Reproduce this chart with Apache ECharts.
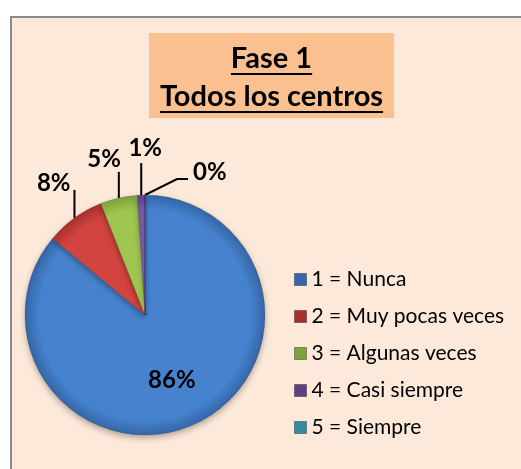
<!DOCTYPE html>
<html>
<head>
<meta charset="utf-8">
<script src="https://cdn.jsdelivr.net/npm/echarts@6/dist/echarts.min.js"></script>
<style>
  html, body { margin: 0; padding: 0; background: #ffffff; }
  #frame {
    position: absolute; left: 10px; top: 16px; width: 511px; height: 453px;
    background: #fde9d9; border-left: 2px solid #8a8a8a; border-top: 2px solid #8a8a8a;
  }
  #chart { position: absolute; left: 0; top: 0; width: 521px; height: 469px; }
</style>
</head>
<body>
<div id="frame"></div>
<div id="chart"></div>
<script>
// valores (porcentaje de respuestas)
const categories = ['1 = Nunca', '2 = Muy pocas veces', '3 = Algunas veces', '4 = Casi siempre', '5 = Siempre'];
const values = [86, 8, 5, 1, 0];
const colors = ['#4682cd', '#d2443f', '#9fc651', '#7a5aa8', '#4bacc6'];
const edgeColors = ['#3566a8', '#a8302c', '#7fa23a', '#5d4187', '#338aa2'];
const titleLines = ['Fase 1', 'Todos los centros'];

const PIE_CX = 145, PIE_CY = 315, PIE_R = 120;

const chart = echarts.init(document.getElementById('chart'), null, { renderer: 'canvas' });

const titleFont = 'bold 29px Lato';
const ctx = document.createElement('canvas').getContext('2d');
ctx.font = titleFont;

const boxX = 149, boxY = 33, boxW = 245, boxH = 85;
const cx = boxX + boxW / 2;
const titleGraphics = [{
  type: 'rect',
  shape: { x: boxX, y: boxY, width: boxW, height: boxH },
  style: { fill: '#fac090' }
}];
[[59, 74], [97, 112]].forEach(([ty, uy], i) => {
  const w = ctx.measureText(titleLines[i]).width;
  titleGraphics.push({
    type: 'text',
    style: { text: titleLines[i], x: cx, y: ty, align: 'center', verticalAlign: 'middle',
      font: titleFont, fill: '#000' }
  });
  titleGraphics.push({
    type: 'line',
    shape: { x1: cx - w / 2, y1: uy, x2: cx + w / 2, y2: uy },
    style: { stroke: '#000', lineWidth: 2 }
  });
});

// line lengths / label offsets for the outside labels
function layoutLabel(params) {
  const i = params.dataIndex;
  if (i === 0) return { dy: 8 };
  const p0 = params.labelLinePoints ? params.labelLinePoints[0] : null;
  if (!p0) return {};
  const [x0, y0] = p0;
  if (i === 1) {
    const top = y0 - 28;
    return { x: x0 - 4, y: top - 7, align: 'right', verticalAlign: 'middle',
      labelLinePoints: [[x0, y0], [x0, top], [x0, top]] };
  }
  if (i === 2) {
    const top = y0 - 26;
    return { x: x0 + 2, y: top - 13, align: 'right', verticalAlign: 'middle',
      labelLinePoints: [[x0, y0], [x0, top], [x0, top]] };
  }
  if (i === 3) {
    const top = y0 - 32;
    return { x: x0 + 4, y: top - 15, align: 'center', verticalAlign: 'middle',
      labelLinePoints: [[x0, y0], [x0, top], [x0, top]] };
  }
  return { x: x0 + 48, y: y0 - 23, align: 'left', verticalAlign: 'middle',
    labelLinePoints: [[x0, y0], [x0 + 32, y0 - 16], [x0 + 43, y0 - 16]] };
}

// bevel-like shading, centred on the pie itself
function sliceFill(i) {
  return {
    type: 'radial', global: true, x: PIE_CX, y: PIE_CY, r: PIE_R,
    colorStops: [
      { offset: 0, color: colors[i] },
      { offset: 0.88, color: colors[i] },
      { offset: 1, color: edgeColors[i] }
    ]
  };
}

chart.setOption({
  backgroundColor: 'transparent',
  animation: false,
  color: colors,
  graphic: titleGraphics,
  legend: {
    orient: 'vertical',
    left: 294,
    top: 269,
    padding: 0,
    height: 200,
    itemWidth: 12,
    itemHeight: 12,
    itemGap: 16,
    icon: 'rect',
    data: categories,
    itemStyle: { borderColor: 'rgba(0,0,0,0.35)', borderWidth: 1 },
    textStyle: { fontFamily: 'Lato', fontSize: 21, color: '#000', lineHeight: 21 }
  },
  series: [{
    type: 'pie',
    center: [PIE_CX, PIE_CY],
    radius: PIE_R,
    startAngle: 90,
    clockwise: true,
    avoidLabelOverlap: false,
    itemStyle: {
      borderColor: 'rgba(0,0,0,0.15)',
      borderWidth: 1,
      shadowBlur: 6,
      shadowOffsetY: 3,
      shadowColor: 'rgba(0,0,0,0.3)'
    },
    label: {
      show: true,
      formatter: '{d}%',
      fontFamily: 'Lato',
      fontWeight: 'bold',
      fontSize: 24,
      color: '#000'
    },
    labelLine: { show: true, lineStyle: { color: '#000', width: 2 } },
    labelLayout: layoutLabel,
    data: categories.map((name, i) => ({
      name,
      value: values[i],
      itemStyle: { color: sliceFill(i) },
      label: i === 0 ? { position: 'inside' } : undefined,
      labelLine: i === 0 ? { show: false } : undefined
    }))
  }]
});
</script>
</body>
</html>
